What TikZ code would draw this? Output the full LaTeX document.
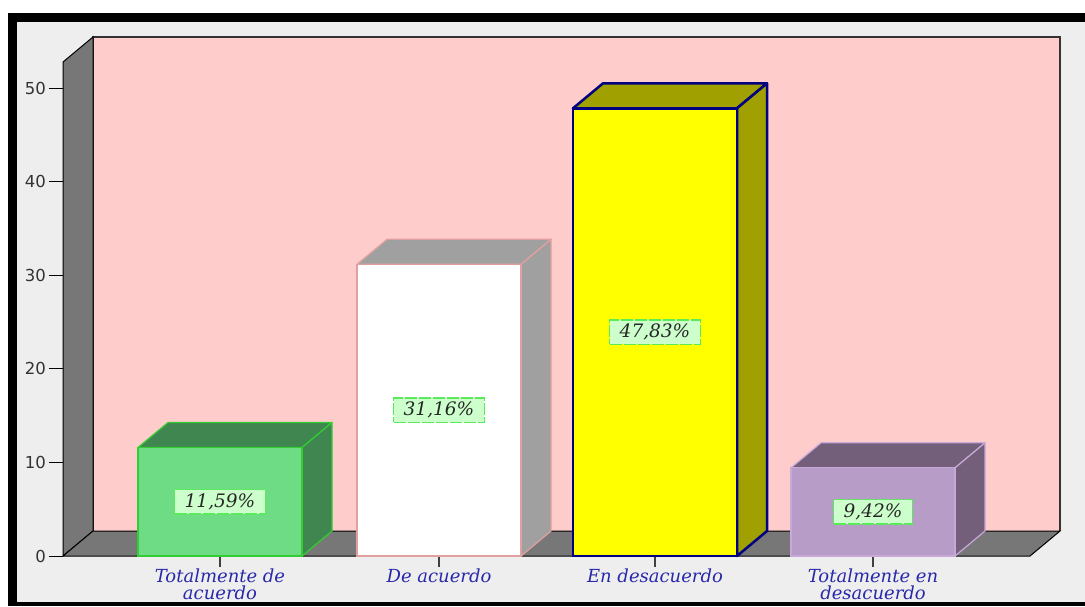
\documentclass[tikz,border=0pt]{standalone}
\usepackage{fontspec}
\usepackage{tikz}
\newfontfamily\catfont{DejaVu Serif}
\newfontfamily\axisfont{DejaVu Sans}
\definecolor{wallpink}{RGB}{255,204,204}
\definecolor{wallgray}{RGB}{119,119,119}
\definecolor{panelgray}{RGB}{238,238,238}
\definecolor{catblue}{RGB}{40,40,170}
\definecolor{boxgreen}{RGB}{204,255,204}
\definecolor{boxedge}{RGB}{90,235,90}
\definecolor{greenfront}{RGB}{110,220,132}
\definecolor{greendark}{RGB}{64,134,80}
\definecolor{greenedge}{RGB}{50,205,50}
\definecolor{whiteedge}{RGB}{225,160,160}
\definecolor{graydark}{RGB}{160,160,160}
\definecolor{yellowfront}{RGB}{255,255,0}
\definecolor{yellowdark}{RGB}{160,160,0}
\definecolor{navyedge}{RGB}{0,0,128}
\definecolor{purplefront}{RGB}{184,156,200}
\definecolor{purpledark}{RGB}{115,95,122}
\definecolor{purpleedge}{RGB}{200,168,216}
\begin{document}
\begin{tikzpicture}[x=1pt,y=-1pt]
\tikzstyle{every node}+=[inner sep=0pt]
\tikzstyle{pct}=[fill=boxgreen, draw=boxedge, line width=1.3pt, dash pattern=on 12pt off 2pt, inner xsep=10pt, inner ysep=4pt, text=black!85, font=\fontsize{18.5}{18.5}\catfont\itshape]
\tikzstyle{cat}=[text=catblue, align=center, anchor=north, font=\fontsize{18}{16.5}\catfont\itshape]
\tikzstyle{ticklbl}=[font=\fontsize{16.5}{16.5}\axisfont, text=black!80, anchor=east]
\useasboundingbox (0,0) rectangle (1085,606);
\fill [black] (8,13) rectangle (1085,606);
\fill [panelgray] (17,22) rectangle (1085,602);
\fill [wallpink] (93,37) rectangle (1060,531);
\draw [black!80, line width=1.5pt] (93,531) -- (93,37) -- (1060,37) -- (1060,531);
\filldraw [fill=wallgray, draw=black, line width=1pt] (63,62) -- (93,37) -- (93,531) -- (63,556) -- cycle;
\filldraw [fill=wallgray, draw=black, line width=1pt] (63,556) -- (93,531) -- (1060,531) -- (1030,556) -- cycle;
\foreach \v in {0,10,...,50} {
  \draw [black, line width=1pt] (49,556-9.36*\v) -- (63,556-9.36*\v);
  \node [ticklbl] (y\v) at (46,556-9.36*\v) {\v};
}
\foreach \i/\xl/\val/\fc/\dc/\ec/\lw/\pc in {
  a/138/11.59/greenfront/greendark/greenedge/1.2/{11,59\%},
  b/357/31.16/white/graydark/whiteedge/1.2/{31,16\%},
  c/573/47.83/yellowfront/yellowdark/navyedge/2.5/{47,83\%},
  d/791/9.42/purplefront/purpledark/purpleedge/1.2/{9,42\%}} {
  \pgfmathsetmacro\yt{556-9.36*\val}
  \pgfmathsetmacro\xr{\xl+164}
  \filldraw [fill=\dc, draw=\ec, line width=\lw pt, line join=round] (\xl,\yt) -- (\xl+30,\yt-25) -- (\xr+30,\yt-25) -- (\xr,\yt) -- cycle;
  \filldraw [fill=\dc, draw=\ec, line width=\lw pt, line join=round] (\xr,\yt) -- (\xr+30,\yt-25) -- (\xr+30,531) -- (\xr,556) -- cycle;
  \filldraw [fill=\fc, draw=\ec, line width=\lw pt] (\xl,\yt) rectangle (\xr,556);
  \node [pct] (v\i) at (\xl+82,{(\yt+556)/2}) {\pc};
  \draw [black!75, line width=1.5pt] (\xl+82,557) -- (\xl+82,567);
}
\node [cat] (ca) at (220,569) {Totalmente de\\acuerdo};
\node [cat] (cb) at (439,569) {De acuerdo};
\node [cat] (cc) at (655,569) {En desacuerdo};
\node [cat] (cd) at (873,569) {Totalmente en\\desacuerdo};
\end{tikzpicture}
\end{document}
